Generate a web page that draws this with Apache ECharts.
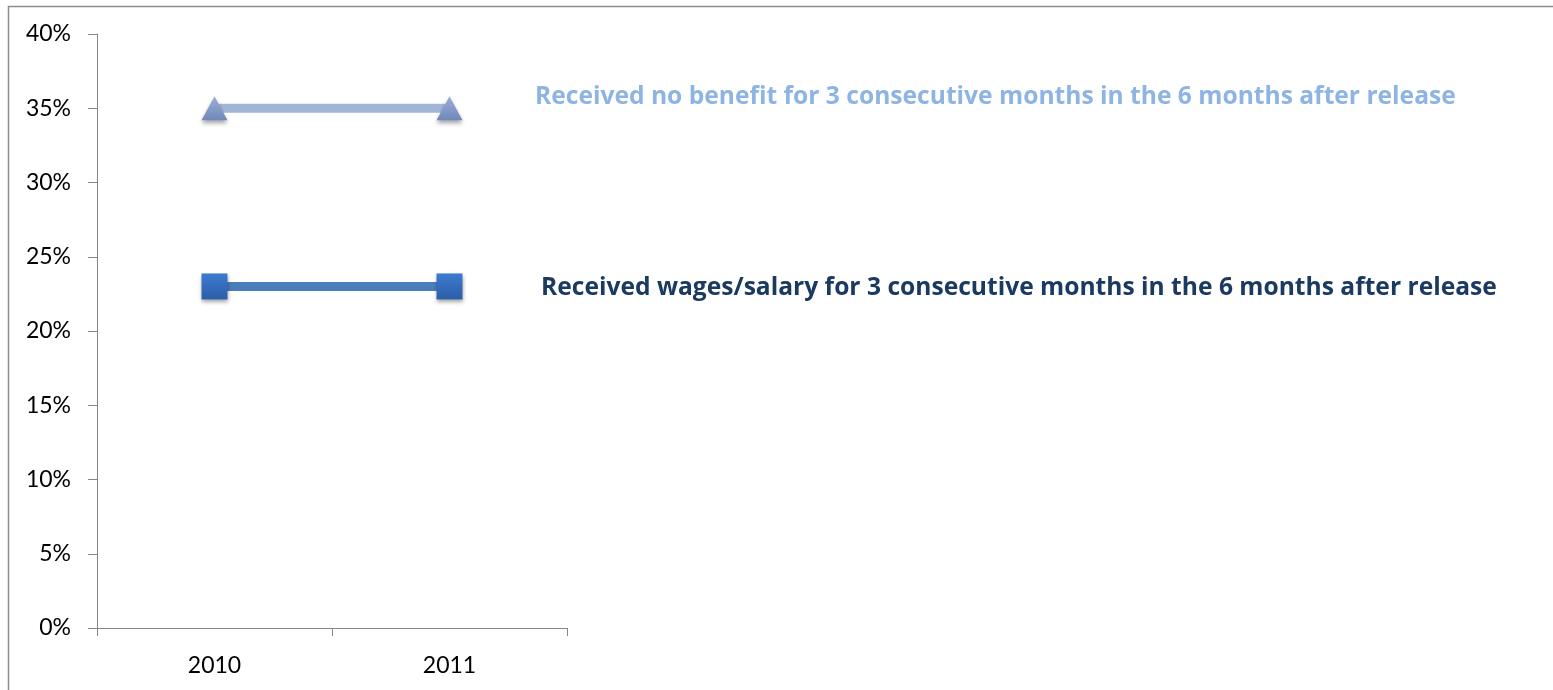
<!DOCTYPE html>
<html>
<head>
<meta charset="utf-8">
<script src="https://cdn.jsdelivr.net/npm/echarts@6/dist/echarts.min.js"></script>
<style>
  html, body { margin: 0; padding: 0; background: #fff; }
  #chart { width: 1553px; height: 690px; }
</style>
</head>
<body>
<div id="chart"></div>
<script>
var years = ['2010', '2011'];
var noBenefit = [35, 35];
var wages = [23, 23];
var noBenefitName = 'Received no benefit for 3 consecutive months in the 6 months after release';
var wagesName = 'Received wages/salary for 3 consecutive months in the 6 months after release';

var myChart = echarts.init(document.getElementById('chart'));
var option = {
    backgroundColor: '#ffffff',
    animation: false,
    grid: { left: 97, right: 986, top: 34, bottom: 62 },
    xAxis: {
        type: 'category',
        data: years,
        boundaryGap: true,
        axisLine: { lineStyle: { color: '#868686', width: 1 } },
        axisTick: { show: true, length: 8, lineStyle: { color: '#868686' } },
        axisLabel: { color: '#000', fontFamily: 'Lato', fontSize: 23, margin: 26 },
        splitLine: { show: false }
    },
    yAxis: {
        type: 'value',
        min: 0,
        max: 40,
        interval: 5,
        axisLine: { show: true, lineStyle: { color: '#868686', width: 1 } },
        axisTick: { show: true, length: 9, lineStyle: { color: '#868686' } },
        axisLabel: { color: '#000', fontFamily: 'Lato', fontSize: 23, margin: 26, formatter: '{value}%' },
        splitLine: { show: false }
    },
    graphic: [
        {
            type: 'rect',
            shape: { x: 8.5, y: 6.5, width: 1600, height: 800 },
            style: { fill: 'none', stroke: '#8c8c8c', lineWidth: 1.5 },
            silent: true
        },
        {
            type: 'text',
            x: 535, y: 97,
            style: { text: noBenefitName, fill: '#8db4e2', font: 'bold 24.6px "Open Sans"', verticalAlign: 'middle' }
        },
        {
            type: 'text',
            x: 541, y: 288,
            style: { text: wagesName, fill: '#1b3a61', font: 'bold 24.6px "Open Sans"', verticalAlign: 'middle' }
        }
    ],
    series: [
        {
            name: noBenefitName,
            type: 'line',
            data: noBenefit,
            symbol: 'triangle',
            symbolSize: [26, 24],
            lineStyle: { color: '#a2b5d7', width: 9 },
            itemStyle: {
                color: new echarts.graphic.LinearGradient(0, 0, 0, 1, [
                    { offset: 0, color: '#9bb0d8' },
                    { offset: 1, color: '#7087b8' }
                ]),
                shadowColor: 'rgba(0,0,0,0.35)',
                shadowBlur: 4,
                shadowOffsetY: 3
            }
        },
        {
            name: wagesName,
            type: 'line',
            data: wages,
            symbol: 'rect',
            symbolSize: 26,
            lineStyle: { color: '#4a7ebb', width: 9 },
            itemStyle: {
                color: new echarts.graphic.LinearGradient(0, 0, 0, 1, [
                    { offset: 0, color: '#3d7bd0' },
                    { offset: 1, color: '#2c5ea8' }
                ]),
                shadowColor: 'rgba(0,0,0,0.35)',
                shadowBlur: 4,
                shadowOffsetY: 3
            }
        }
    ]
};
myChart.setOption(option);
</script>
</body>
</html>
